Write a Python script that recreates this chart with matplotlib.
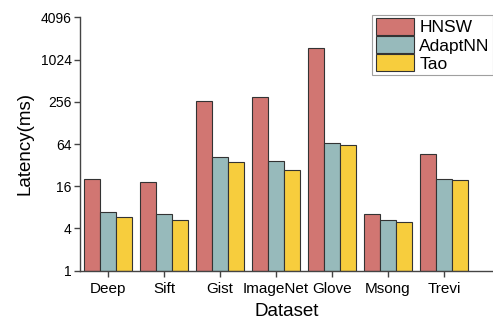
import matplotlib
matplotlib.use("Agg")
import matplotlib.pyplot as plt
import numpy as np

plt.rcParams["font.family"] = ["Liberation Sans", "DejaVu Sans"]

datasets = ["Deep", "Sift", "Gist", "ImageNet", "Glove", "Msong", "Trevi"]
hnsw = [19.4, 17.6, 265, 302, 1480, 5.4, 45.6]
adaptnn = [5.8, 5.4, 41.3, 36.2, 65.5, 4.2, 19.4]
tao = [4.8, 4.2, 34.3, 26.6, 61.3, 4.0, 18.6]

series = [("HNSW", hnsw, "#d17672"), ("AdaptNN", adaptnn, "#97babb"), ("Tao", tao, "#f7cd3d")]

fig = plt.figure(figsize=(4.93, 3.21), dpi=100)
ax = fig.add_axes([80 / 493, 1 - 270.7 / 321, 413 / 493, 253.4 / 321])

x = np.arange(len(datasets))
w = 0.28
for i, (name, vals, col) in enumerate(series):
    ax.bar(x + (i - 1) * w, vals, width=w, bottom=1, color=col, edgecolor="#333333",
           linewidth=0.8, label=name)

ax.set_yscale("log", base=2)
ax.set_ylim(1, 4096)
ax.set_yticks([1, 4, 16, 64, 256, 1024, 4096])
ax.set_yticklabels(["1", "4", "16", "64", "256", "1024", "4096"])
ax.minorticks_off()
ax.set_xlim(-0.5, 6.875)
ax.set_xticks(x)
ax.set_xticklabels(datasets)

for s in ["top", "right"]:
    ax.spines[s].set_visible(False)
for s in ["left", "bottom"]:
    ax.spines[s].set_color("#444444")
    ax.spines[s].set_linewidth(1.0)
ax.tick_params(axis="y", direction="out", length=4, width=1, color="#444444", labelsize=10, pad=2)
ax.tick_params(axis="x", direction="out", length=4, width=1, color="#444444", labelsize=11, pad=4)

ax.set_xlabel("Dataset", fontsize=13.5, labelpad=5)
ax.set_ylabel("Latency(ms)", fontsize=13.5, labelpad=5)

leg = ax.legend(loc="upper right", bbox_to_anchor=(1.0, 1.01), fontsize=12.5, frameon=True,
                fancybox=False, edgecolor="#888888", handlelength=2.2, handleheight=1.1,
                handletextpad=0.3, borderpad=0.2, labelspacing=0.05, borderaxespad=0.0)
leg.get_frame().set_linewidth(0.8)

fig.savefig("out.png", dpi=100)
